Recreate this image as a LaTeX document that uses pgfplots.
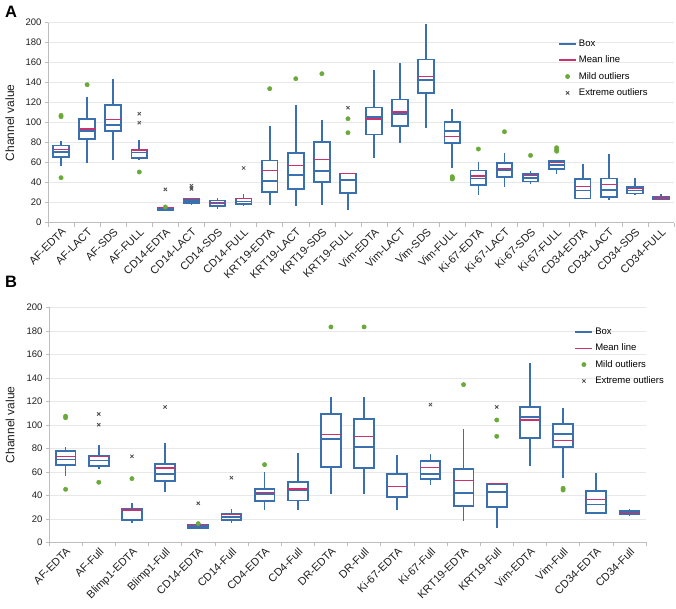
\documentclass[border=0pt]{standalone}
\usepackage{fontspec}
\setmainfont{Liberation Sans}
\usepackage{pgfplots}
\pgfplotsset{compat=1.18}
\usepgfplotslibrary{statistics}
\definecolor{boxblue}{HTML}{3A70AE}
\definecolor{meanred}{HTML}{C8326E}
\definecolor{mildgreen}{HTML}{6BAA3A}
\definecolor{extgray}{HTML}{505050}
\definecolor{gridgray}{HTML}{E8E8E8}
\definecolor{axisgray}{HTML}{BDBDBD}
\definecolor{ink}{HTML}{1E1E1E}

\pgfplotsset{
  panel/.style={
    scale only axis,
    anchor=south west,
    xmin=0.5, ymin=0, ymax=200,
    ytick={0,20,...,200},
    axis x line*=bottom, axis y line*=left,
    axis line style={axisgray, line width=0.6pt, -},
    ymajorgrids, grid style={gridgray, line width=0.6pt},
    tick align=outside,
    major x tick style={draw=none},
    minor x tick style={draw=axisgray, line width=0.6pt},
    y tick style={draw=axisgray, line width=0.6pt},
    major tick length=3pt, minor tick length=4pt,
    /pgf/number format/assume math mode=true,
    yticklabel style={font=\fontsize{9.5}{11}\selectfont, text=ink},
    xticklabel style={font=\fontsize{11}{12}\selectfont, text=ink, rotate=45, anchor=north east, inner sep=1pt},
    ylabel={Channel value},
    ylabel style={font=\fontsize{12}{14}\selectfont, text=ink, anchor=center},
    legend cell align=left,
    legend style={draw=none, fill=none, font=\fontsize{9.5}{11}\selectfont, anchor=north west, row sep=4pt},
  },
  bxp/.style={
    forget plot, draw=boxblue, line width=1.6pt, solid,
    boxplot/draw direction=y,
    boxplot/box extend=0.6, boxplot/whisker extend=0,
    boxplot/draw/box/.code={%
      \draw[boxblue, fill=white, line width=1.8pt]
        (boxplot box cs:\pgfplotsboxplotvalue{lower quartile},0) rectangle
        (boxplot box cs:\pgfplotsboxplotvalue{upper quartile},1);
    },
    boxplot/draw/median/.code={%
      \draw[boxblue, line width=1.7pt]
        (boxplot box cs:\pgfplotsboxplotvalue{median},0) --
        (boxplot box cs:\pgfplotsboxplotvalue{median},1);
    },
    boxplot/draw/average/.code={%
      \draw[meanred, line width=1.5pt]
        (boxplot box cs:\pgfplotsboxplotvalue{average},0) --
        (boxplot box cs:\pgfplotsboxplotvalue{average},1);
    },
  },
}
% position, lower whisker, lower quartile, median, upper quartile, upper whisker, mean
\newcommand{\bx}[7]{\addplot[bxp, boxplot prepared={draw position=#1,
  lower whisker=#2, lower quartile=#3, median=#4, upper quartile=#5,
  upper whisker=#6, average=#7}] coordinates {};}

\begin{document}
\begin{tikzpicture}
\useasboundingbox (0pt,0pt) rectangle (676pt,-608pt);

\node[anchor=base west, font=\bfseries\fontsize{16.5}{17}\selectfont] at (1.5pt,-17pt) {A};
\node[anchor=base west, font=\bfseries\fontsize{16.5}{17}\selectfont] at (1.5pt,-287pt) {B};

% ---------- panel A ----------
\begin{axis}[panel,
  at={(48pt,-222.7pt)}, width=626pt, height=200pt,
  xmax=24.5,
  xtick={1,...,24},
  minor xtick={0.5,1.5,...,24.5},
  xticklabels={AF-EDTA,AF-LACT,AF-SDS,AF-FULL,CD14-EDTA,CD14-LACT,CD14-SDS,CD14-FULL,
    KRT19-EDTA,KRT19-LACT,KRT19-SDS,KRT19-FULL,Vim-EDTA,Vim-LACT,Vim-SDS,Vim-FULL,
    Ki-67-EDTA,Ki-67-LACT,Ki-67-SDS,Ki-67-FULL,CD34-EDTA,CD34-LACT,CD34-SDS,CD34-FULL},
  ylabel style={at={(axis description cs:-0.061,0.5)}},
  legend style={at={(0.81,0.935)}},
]
\bx{1}{56.3}{66}{71}{77.3}{81.7}{73}
\bx{2}{59.7}{84}{92}{103.7}{125.7}{93.7}
\bx{3}{62.3}{92}{97.7}{118}{143.7}{103}
\bx{4}{62.3}{65}{70.3}{73}{82.3}{72.7}
\bx{5}{11.3}{12.3}{13.5}{15.3}{15.3}{15}
\bx{6}{18}{19.7}{21.7}{23.7}{23.7}{23.3}
\bx{7}{13.7}{16.7}{20}{22.3}{24.3}{19}
\bx{8}{16.7}{19}{21.3}{24.3}{28.7}{24}
\bx{9}{17.3}{31}{41.7}{62.3}{96.7}{52.3}
\bx{10}{16.7}{33.7}{48}{69.7}{117.7}{57}
\bx{11}{17.3}{40.7}{51.7}{81}{102.3}{63}
\bx{12}{13}{30}{43}{49.3}{49.3}{49.3}
\bx{13}{64.3}{88.3}{106}{115.3}{152.3}{103.7}
\bx{14}{79.7}{96.7}{108.7}{123.3}{159.3}{110.7}
\bx{15}{94.3}{129.7}{142.7}{163.3}{198.3}{146}
\bx{16}{54.3}{80}{91.7}{101}{114}{86.3}
\bx{17}{27.7}{37.7}{44.3}{52.3}{60.3}{46.7}
\bx{18}{35.7}{45.7}{53}{59.7}{69.3}{54.3}
\bx{19}{38.3}{41.3}{45}{49}{51.7}{47.3}
\bx{20}{48.7}{53.7}{57.7}{61.7}{62.5}{60.3}
\bx{21}{23.3}{24.3}{32.3}{44}{58.3}{36.3}
\bx{22}{22.3}{25.7}{33}{44.3}{68.3}{38.3}
\bx{23}{27.3}{29.3}{32.3}{36}{44.3}{34}
\bx{24}{22.3}{23.3}{24.7}{26}{28.3}{24.7}
\addlegendimage{line legend, boxblue, line width=1.6pt}
\addlegendentry{Box}
\addlegendimage{line legend, meanred, line width=1.3pt}
\addlegendentry{Mean line}
\addplot[only marks, mark=*, mark size=2.2pt, mildgreen] coordinates {
  (1,106) (1,107.3) (1,45) (2,138) (4,50.7) (5,15.7) (9,134) (10,144) (11,149)
  (12,104) (12,90) (16,46) (16,44.5) (16,43.7) (17,73.7) (18,91) (19,67.3)
  (20,71.5) (20,73) (20,75)};
\addlegendentry{Mild outliers}
\addplot[only marks, mark=x, mark size=2.3pt, extgray, line width=0.8pt] coordinates {
  (4,109) (4,100) (5,33.3) (6,37) (6,35) (6,33.7) (8,54.7) (12,115)};
\addlegendentry{Extreme outliers}
\end{axis}

% ---------- panel B ----------
\begin{axis}[panel,
  at={(49pt,-542.3pt)}, width=597pt, height=235pt,
  xmax=18.5,
  xtick={1,...,18},
  minor xtick={0.5,1.5,...,18.5},
  xticklabels={AF-EDTA,AF-Full,Blimp1-EDTA,Blimp1-Full,CD14-EDTA,CD14-Full,CD4-EDTA,CD4-Full,
    DR-EDTA,DR-Full,Ki-67-EDTA,Ki-67-Full,KRT19-EDTA,KRT19-Full,Vim-EDTA,Vim-Full,CD34-EDTA,CD34-Full},
  ylabel style={at={(axis description cs:-0.065,0.5)}},
  legend style={at={(0.875,0.93)}},
]
\bx{1}{56.7}{65.8}{70.6}{77.7}{81.4}{73.2}
\bx{2}{62.7}{65}{69.5}{73.2}{82.6}{72.9}
\bx{3}{16.7}{19}{19.5}{28.7}{33.5}{27.5}
\bx{4}{42.6}{51.9}{58.4}{66.7}{84.3}{63.3}
\bx{5}{11.5}{12.2}{13.3}{15}{15}{15}
\bx{6}{16.7}{19}{21.8}{24.4}{28.1}{23.8}
\bx{7}{27.8}{34.9}{41.4}{45.7}{60.1}{42.6}
\bx{8}{27.8}{35.5}{44.3}{51.6}{76.3}{45.4}
\bx{9}{40.9}{63.8}{88.2}{108.9}{123.4}{91.6}
\bx{10}{40.9}{63}{81.4}{104.7}{123.4}{90.2}
\bx{11}{27.8}{38.3}{47.4}{58.2}{74.3}{47.4}
\bx{12}{48.8}{53.9}{58.2}{69.5}{75.5}{63.5}
\bx{13}{17.9}{31.2}{41.7}{62.7}{96.5}{52.5}
\bx{14}{12.5}{29.8}{43.1}{49.9}{49.9}{49.9}
\bx{15}{65}{88.5}{106.4}{115.2}{152.3}{104.1}
\bx{16}{54.5}{80.9}{91.9}{101}{114.6}{86.8}
\bx{17}{23.8}{24.7}{32.3}{44}{58.7}{36.6}
\bx{18}{22.7}{23.8}{25.2}{26.4}{28.1}{25.2}
\addlegendimage{line legend, boxblue, line width=1.6pt}
\addlegendentry{Box}
\addlegendimage{line legend, meanred, line width=1.3pt}
\addlegendentry{Mean line}
\addplot[only marks, mark=*, mark size=2.2pt, mildgreen] coordinates {
  (1,106) (1,107.3) (1,45.1) (2,51.1) (3,54.2) (5,15.9) (7,66.1) (9,183.3)
  (10,183.3) (13,134.2) (14,104.1) (14,90.2) (16,46) (16,44.5)};
\addlegendentry{Mild outliers}
\addplot[only marks, mark=x, mark size=2.3pt, extgray, line width=0.8pt] coordinates {
  (2,109.2) (2,100.1) (3,73.2) (4,115.2) (5,33.2) (6,55) (12,117.2) (14,115.2)};
\addlegendentry{Extreme outliers}
\end{axis}
\end{tikzpicture}
\end{document}
